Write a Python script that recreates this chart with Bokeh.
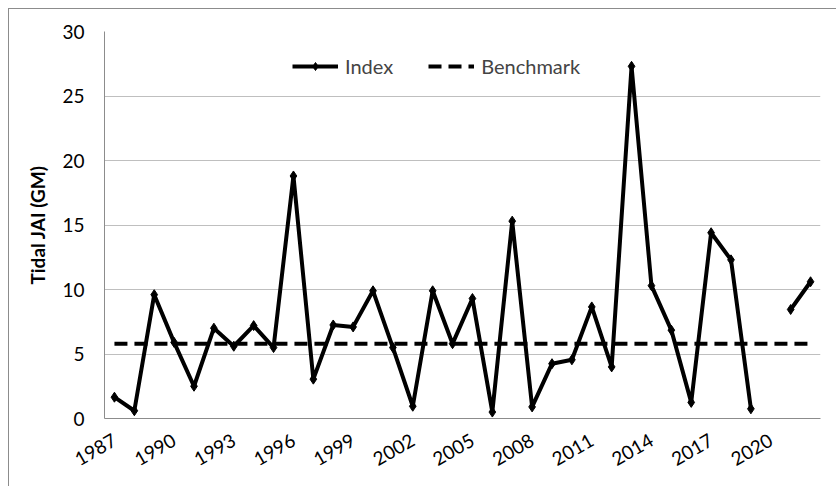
import math
from bokeh.plotting import figure
from bokeh.models import ColumnDataSource, FixedTicker, Legend, LegendItem, Range1d
from bokeh.embed import file_html
from bokeh.resources import INLINE

years = list(range(1987, 2023))
index_values = [1.65, 0.6, 9.6, 5.9, 2.5, 7.0, 5.6, 7.2, 5.5, 18.8,
                3.05, 7.25, 7.1, 9.9, 5.5, 0.95, 9.9, 5.8, 9.3, 0.5,
                15.3, 0.9, 4.25, 4.55, 8.65, 4.0, 27.3, 10.3, 6.85, 1.25,
                14.4, 12.3, 0.75, float("nan"), 8.45, 10.6]
benchmark_value = 5.8
benchmark = [benchmark_value] * len(years)
tick_years = list(range(1987, 2021, 3))
y_ticks = [0, 5, 10, 15, 20, 25, 30]

FONT = "Lato"

src = ColumnDataSource(data=dict(year=years, index=index_values, bench=benchmark))

p = figure(width=828, height=478, output_backend="svg", toolbar_location=None,
           x_range=Range1d(1986.5, 2022.5), y_range=Range1d(0, 30),
           min_border_left=95, min_border_top=22, min_border_right=17, min_border_bottom=69)
p.styles = {"margin-left": "8px", "margin-top": "8px",
            "border-left": "1px solid #8c8c8c", "border-top": "1px solid #8c8c8c"}
p.outline_line_color = None
p.background_fill_color = "white"
p.border_fill_color = "white"

p.xgrid.grid_line_color = None
p.ygrid.grid_line_color = "#bfbfbf"
p.ygrid.grid_line_width = 1

p.yaxis.ticker = FixedTicker(ticks=y_ticks)
p.xaxis.ticker = FixedTicker(ticks=tick_years)
for ax in (p.xaxis[0], p.yaxis[0]):
    ax.axis_line_color = "#8c8c8c"
    ax.major_tick_line_color = None
    ax.minor_tick_line_color = None
    ax.major_label_text_font = FONT
    ax.major_label_text_font_size = "19px"
    ax.major_label_text_color = "#000000"
p.xaxis.major_label_orientation = math.pi / 6
p.xaxis.major_label_standoff = 14
p.yaxis.major_label_standoff = 14
p.yaxis.axis_label = "Tidal JAI (GM)"
p.yaxis.axis_label_text_font = FONT
p.yaxis.axis_label_text_font_size = "19px"
p.yaxis.axis_label_text_font_style = "bold"
p.yaxis.axis_label_text_color = "#000000"
p.yaxis.axis_label_standoff = 10

bench_r = p.line("year", "bench", source=src, line_color="black", line_width=4,
                 line_dash="13 7")
idx_line = p.line("year", "index", source=src, line_color="black", line_width=4,
                  line_join="round")
idx_pts = p.scatter("year", "index", source=src, marker="diamond", size=10,
                    fill_color="black", line_color="black")

legend = Legend(items=[LegendItem(label="Index", renderers=[idx_line, idx_pts]),
                       LegendItem(label="Benchmark", renderers=[bench_r])],
                orientation="horizontal", location=(188, 340),
                label_text_font=FONT, label_text_font_size="20px",
                glyph_width=46, glyph_height=20, spacing=35, padding=0, margin=0,
                border_line_color=None, background_fill_alpha=0, label_standoff=7)
p.add_layout(legend, "center")

open("out.html", "w").write(file_html(p, INLINE))
